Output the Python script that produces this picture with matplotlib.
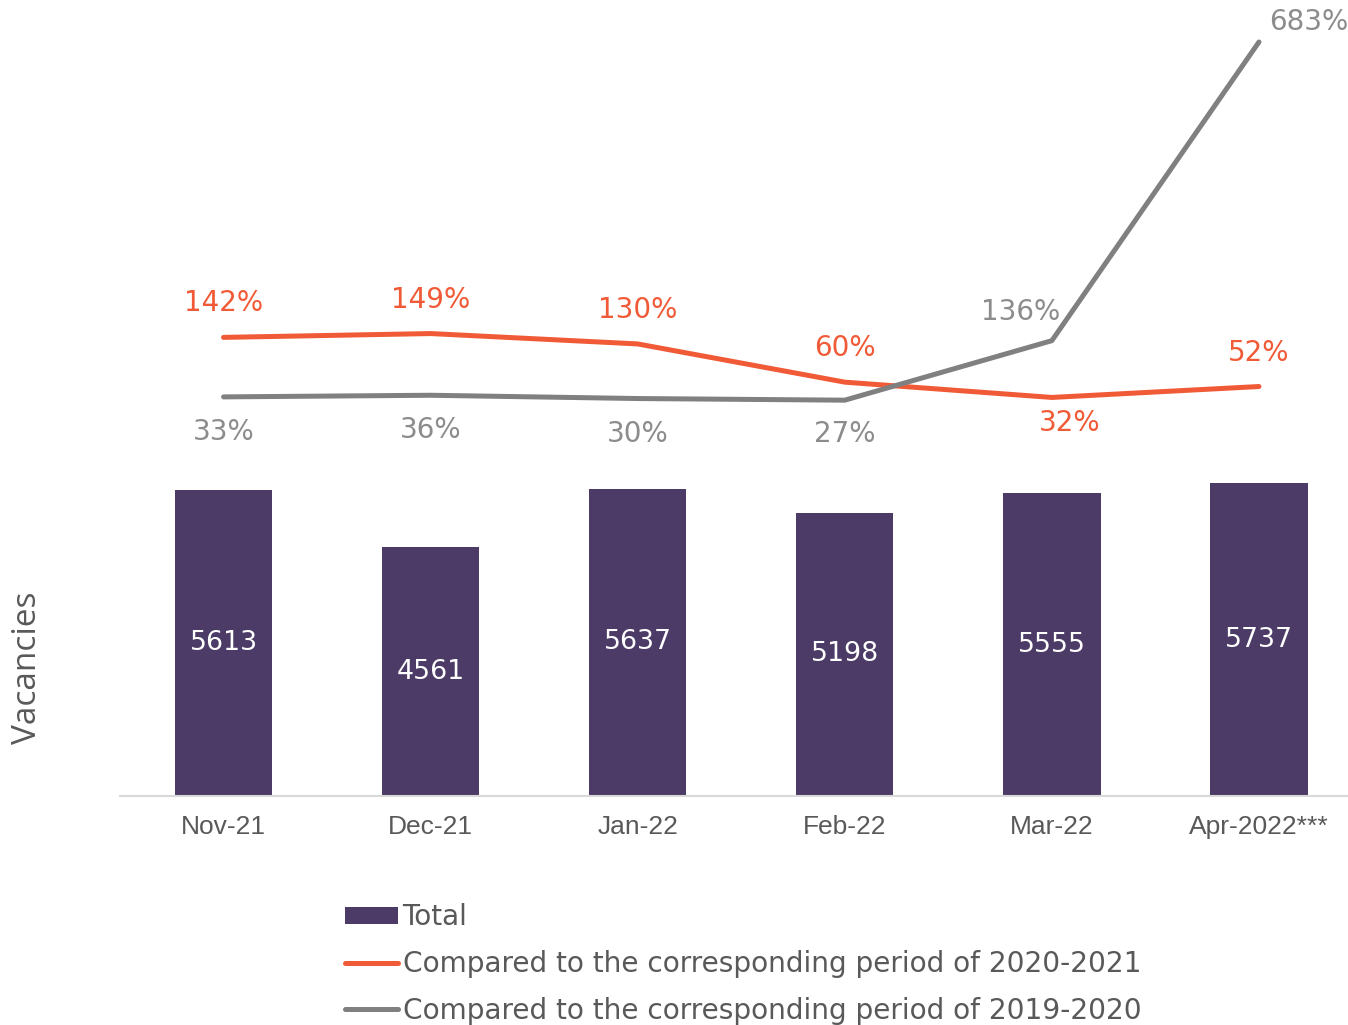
import matplotlib
matplotlib.use("Agg")
import matplotlib.pyplot as plt

plt.rcParams["font.family"] = ["DejaVu Sans"]

# data
months = ["Nov-21", "Dec-21", "Jan-22", "Feb-22", "Mar-22", "Apr-2022***"]
total = [5613, 4561, 5637, 5198, 5555, 5737]
vs_2020_2021 = [142, 149, 130, 60, 32, 52]
vs_2019_2020 = [33, 36, 30, 27, 136, 683]

purple = "#4B3B66"
orange = "#F15A36"
grey = "#808080"

fig = plt.figure(figsize=(13.48, 10.25), dpi=100)
ax = fig.add_axes([120 / 1348, 1 - 796 / 1025, 1 - 120 / 1348, 766 / 1025])
x = list(range(len(months)))

bars = ax.bar(x, total, width=0.47, color=purple, label="Total", zorder=2)
for xi, v in zip(x, total):
    ax.text(xi, v / 2, str(v), ha="center", va="center", color="white",
            fontsize=19.3)

ax.set_xlim(-0.5, 5.43)
ax.set_ylim(0, 14050)
ax.set_yticks([])
for s in ["top", "right", "left"]:
    ax.spines[s].set_visible(False)
ax.spines["bottom"].set_color("#D9D9D9")
ax.spines["bottom"].set_linewidth(1.5)
ax.set_xticks(x)
ax.set_xticklabels(months, fontsize=19, color="#595959", family="Liberation Sans")
ax.tick_params(axis="x", length=0, pad=14)
fig.text(27 / 1348, 1 - 668 / 1025, "Vacancies", rotation=90, ha="center", va="center",
         fontsize=24, color="#595959", family="Open Sans")

ax2 = ax.twinx()
ax2.set_ylim(-698, 705)
ax2.axis("off")
l1, = ax2.plot(x, vs_2020_2021, color=orange, lw=3.6, solid_capstyle="round",
               label="Compared to the corresponding period of 2020-2021")
l2, = ax2.plot(x, vs_2019_2020, color=grey, lw=3.6, solid_capstyle="round",
               label="Compared to the corresponding period of 2019-2020")

# label offsets in pixels
off1 = [(0, 34), (0, 34), (0, 34), (0, 34), (18, -26), (0, 34)]
off2 = [(0, -35), (0, -35), (0, -35), (0, -34), (-31, 29), (50, 20)]
for xi, v, o in zip(x, vs_2020_2021, off1):
    ax2.annotate(f"{v}%", (xi, v), xytext=o, textcoords="offset pixels",
                 ha="center", va="center", color=orange, fontsize=20)
for xi, v, o in zip(x, vs_2019_2020, off2):
    ax2.annotate(f"{v}%", (xi, v), xytext=o, textcoords="offset pixels",
                 ha="center", va="center", color="#8C8C8C", fontsize=20)

leg = fig.legend(handles=[bars, l1, l2], loc="upper left",
                 bbox_to_anchor=(345 / 1348, 1 - 903 / 1025), frameon=False,
                 fontsize=20.2, borderpad=0, borderaxespad=0, handlelength=1.9,
                 handleheight=0.55, handletextpad=0.15, labelspacing=0.67)
for t in leg.get_texts():
    t.set_color("#595959")

fig.savefig("out.png", dpi=100)
